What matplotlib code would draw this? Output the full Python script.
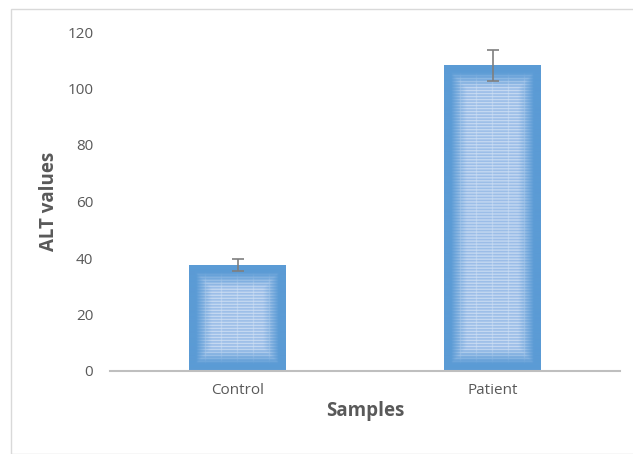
import numpy as np
import matplotlib
matplotlib.use("Agg")
import matplotlib.pyplot as plt
from matplotlib.patches import Rectangle

categories = ["Control", "Patient"]
values = [37.5, 108.0]
errors = [2.0, 5.5]
yticks = [0, 20, 40, 60, 80, 100, 120]

W, H = 633, 454
fig = plt.figure(figsize=(W / 100, H / 100), dpi=100)
fig.patch.set_facecolor("white")
fig.add_artist(Rectangle((11 / W, 0), 1, 1 - 9 / H, transform=fig.transFigure,
                         fill=False, edgecolor="#D9D9D9", lw=1.0))

ax = fig.add_axes([110 / W, 1 - 371 / H, 510 / W, (371 - 32) / H])
ax.set_xlim(-0.5, 1.5)
ax.set_ylim(0, 120)

width = 0.38
x = np.arange(len(categories))
blue = np.array([0x5B, 0x9B, 0xD5]) / 255.0
light = np.array([0x9C, 0xBE, 0xE8]) / 255.0

bars = ax.bar(x, values, width=width, color="#5B9BD5", zorder=2)
for b in bars:
    x0, y0 = b.get_x(), b.get_y()
    w, h = b.get_width(), b.get_height()
    px_h = h * 2.825
    px_w = 97
    ny, nx = int(px_h * 3), int(px_w * 3)
    yy = np.linspace(0, 1, ny)[:, None]
    xx = np.linspace(0, 1, nx)[None, :]
    dx = np.minimum(xx, 1 - xx) * px_w
    dy = np.minimum(yy, 1 - yy) * px_h
    d = np.minimum(dx, dy)
    t = np.clip((d - 7) / 16.0, 0, 1)
    img = blue[None, None, :] * (1 - t[..., None]) + light[None, None, :] * t[..., None]
    rows = np.arange(ny) / 3.0
    cols = np.arange(nx) / 3.0
    hs = ((rows % 3.0) < 1.0)[:, None] * 0.55
    vs = ((cols % 16.0) < 1.0)[None, :] * 0.3
    s = np.maximum(hs, vs) * t
    img = img * (1 - s[..., None]) + s[..., None] * 1.0
    img = np.clip(img, 0, 1)
    ax.imshow(img, extent=(x0, x0 + w, y0, y0 + h), origin="lower",
              aspect="auto", zorder=3, interpolation="bilinear")

ax.errorbar(x, values, yerr=errors, fmt="none", ecolor="#7F7F7F",
            elinewidth=1.2, capsize=4, capthick=1.2, zorder=4)

ax.set_xlim(-0.5, 1.5)
ax.set_ylim(0, 120)
ax.set_yticks(yticks)
ax.set_xticks(x)
ax.set_xticklabels(categories)
for s in ["top", "right", "left"]:
    ax.spines[s].set_visible(False)
ax.spines["bottom"].set_color("#BFBFBF")
ax.spines["bottom"].set_linewidth(1.5)
ax.spines["bottom"].set_zorder(5)
ax.tick_params(axis="both", length=0, labelsize=11, labelcolor="#595959")
ax.tick_params(axis="y", pad=12)
ax.tick_params(axis="x", pad=9)
for lab in ax.get_xticklabels() + ax.get_yticklabels():
    lab.set_family("Open Sans")
ax.set_ylabel("ALT values", fontsize=13.5, fontweight="bold", color="#595959",
              family="Open Sans", labelpad=6)
ax.set_xlabel("Samples", fontsize=13.5, fontweight="bold", color="#595959",
              family="Open Sans", labelpad=2)
ax.set_facecolor("none")

fig.savefig("out.png", dpi=100)
